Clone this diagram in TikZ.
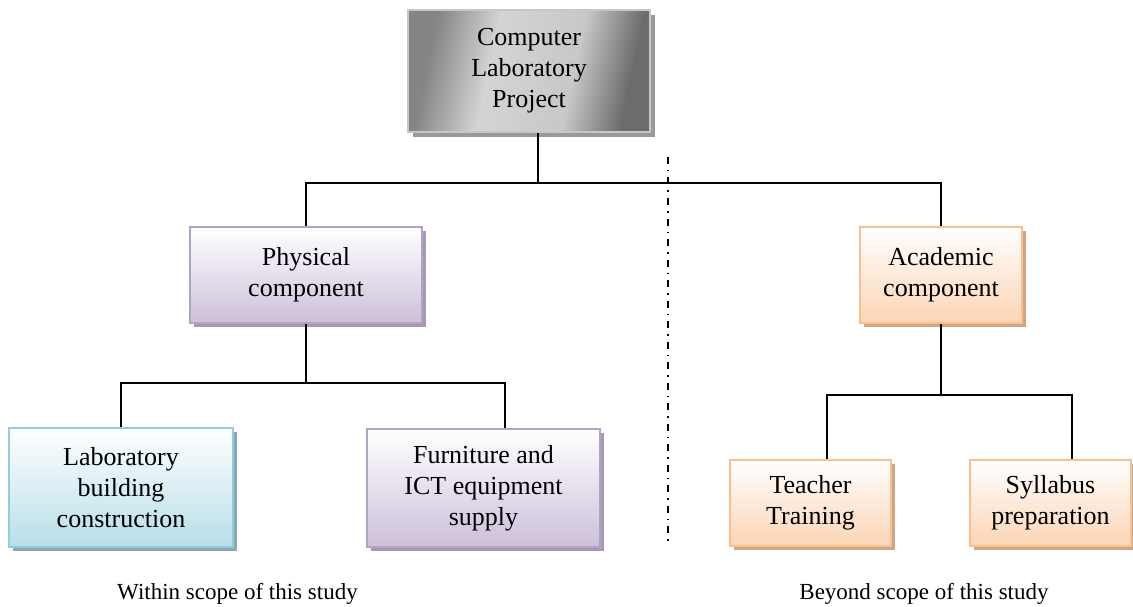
\documentclass[tikz,border=0pt]{standalone}
\usepackage{fontspec}
\setmainfont{Liberation Serif}
\usetikzlibrary{shadows,calc}

% box palettes
\definecolor{purpleEdge}{HTML}{B3A2C7}
\definecolor{purpleFill}{HTML}{CCC0DA}
\definecolor{purpleShade}{HTML}{A699B4}
\definecolor{blueEdge}{HTML}{93CDDD}
\definecolor{blueFill}{HTML}{B7DEE8}
\definecolor{blueShade}{HTML}{86A9B3}
\definecolor{peachEdge}{HTML}{FAC08F}
\definecolor{peachFill}{HTML}{FCD5B5}
\definecolor{peachShade}{HTML}{CFA583}
\definecolor{steelA}{HTML}{858585}
\definecolor{steelB}{HTML}{D4D4D4}
\definecolor{steelC}{HTML}{C8C8C8}
\definecolor{steelD}{HTML}{6C6C6C}

% metallic fill of the root box
\pgfdeclarehorizontalshading{steel}{100bp}{%
  color(0bp)=(steelA); color(27bp)=(steelA); color(41bp)=(steelB);
  color(60bp)=(steelC); color(73bp)=(steelD); color(100bp)=(steelD)}

\tikzset{
  boxtext/.style={align=center, font=\fontsize{26}{31}\selectfont, inner sep=0pt},
  basebox/.style={boxtext, rectangle, line width=1.8pt},
  rootbox/.style={basebox, draw=black!22, line width=1.2pt,
    shading=steel, shading angle=-12,
    general shadow={shadow xshift=5pt, shadow yshift=-5pt, fill=black!40}},
  purplebox/.style={basebox, draw=purpleEdge, top color=white, bottom color=purpleFill,
    general shadow={shadow xshift=4pt, shadow yshift=-4pt, fill=purpleShade}},
  bluebox/.style={basebox, draw=blueEdge, top color=white, bottom color=blueFill,
    general shadow={shadow xshift=4pt, shadow yshift=-4pt, fill=blueShade}},
  peachbox/.style={basebox, draw=peachEdge, top color=white, bottom color=peachFill,
    general shadow={shadow xshift=4pt, shadow yshift=-4pt, fill=peachShade}},
  conn/.style={line width=1.6pt, black},
  scopeline/.style={line width=1.6pt, dash pattern=on 7pt off 6pt on 1.5pt off 6pt},
  scopelabel/.style={font=\fontsize{23}{27}\selectfont, inner sep=0pt}
}

\begin{document}
\begin{tikzpicture}[x=1pt, y=-1pt]
  \useasboundingbox[fill=white] (0,0) rectangle (1133,607);

  % scope divider
  \coordinate (divTop) at (668,157);
  \coordinate (divBot) at (668,546);
  \draw[scopeline] (divTop) -- (divBot);

  % boxes
  \node[rootbox, minimum width=242pt, minimum height=122pt] (root) at (529,71)
    {Computer\\Laboratory\\Project};
  \node[purplebox, minimum width=232pt, minimum height=96pt] (phys) at (306,275)
    {Physical\\component};
  \node[peachbox, minimum width=162pt, minimum height=96pt] (acad) at (941,275)
    {Academic\\component};
  \node[bluebox, minimum width=224pt, minimum height=119pt] (lab) at (121,487.5)
    {Laboratory\\building\\construction};
  \node[purplebox, minimum width=233pt, minimum height=118pt] (furn) at (483.5,488)
    {Furniture and\\ICT equipment\\supply};
  \node[peachbox, minimum width=161pt, minimum height=86pt] (teach) at (810.5,503)
    {Teacher\\Training};
  \node[peachbox, minimum width=161pt, minimum height=86pt] (syll) at (1050.5,503)
    {Syllabus\\preparation};

  % tree connectors
  \coordinate (busRoot) at (538,183);
  \coordinate (busPhys) at (306,383);
  \coordinate (busAcad) at (941,395);
  \draw[conn] ([xshift=9pt]root.south) -- (busRoot);
  \draw[conn] (phys.north) |- (busRoot) -| (acad.north);
  \draw[conn] (phys.south) -- (busPhys);
  \draw[conn] (lab.north) |- (busPhys) -| ([xshift=21.5pt]furn.north);
  \draw[conn] (acad.south) -- (busAcad);
  \draw[conn] ([xshift=16.5pt]teach.north) |- (busAcad) -| ([xshift=21.5pt]syll.north);

  % scope labels
  \node[scopelabel] (within) at (237.5,594) {Within scope of this study};
  \node[scopelabel] (beyond) at (924,594) {Beyond scope of this study};
\end{tikzpicture}
\end{document}
